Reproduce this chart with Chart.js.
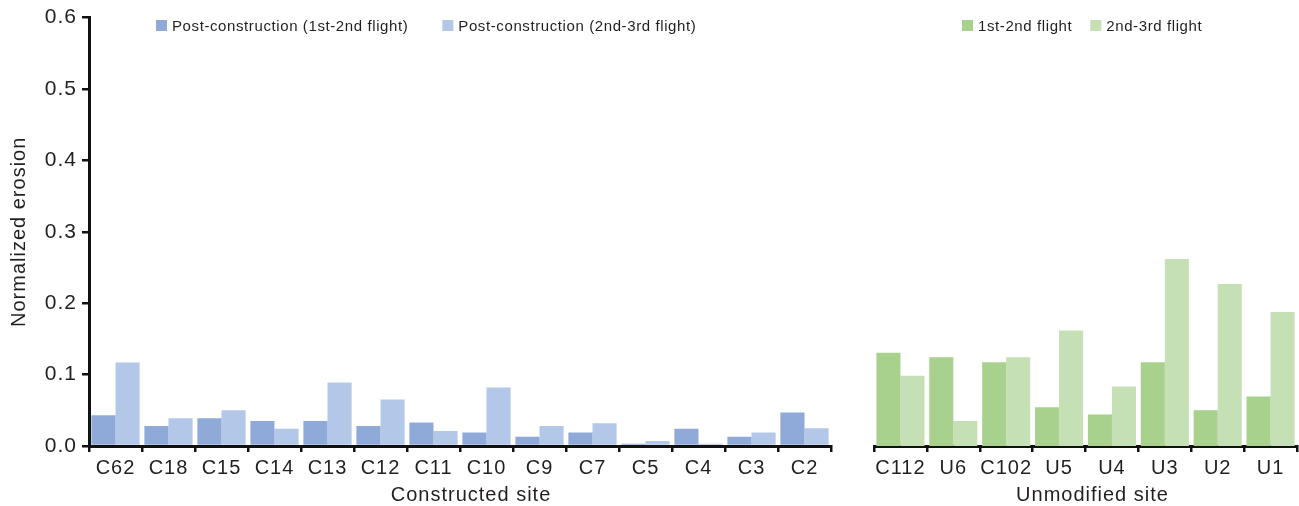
<!DOCTYPE html>
<html>
<head>
<meta charset="utf-8">
<script src="https://cdn.jsdelivr.net/npm/chart.js@4.4.1/dist/chart.umd.min.js"></script>
<style>
  body { margin: 0; background: #fff; }
  #wrap { position: relative; width: 1299px; height: 506px; }
  #leftBox { position: absolute; left: 0; top: 0; width: 850px; height: 506px; }
  #rightBox { position: absolute; left: 852px; top: 0; width: 447px; height: 506px; }
</style>
</head>
<body>
<div id="wrap">
  <div id="leftBox"><canvas id="chartConstructed"></canvas></div>
  <div id="rightBox"><canvas id="chartUnmodified"></canvas></div>
</div>
<script>
// constructed sites
var constructedSites = ['C62','C18','C15','C14','C13','C12','C11','C10','C9','C7','C5','C4','C3','C2'];
var post12 = [0.043,0.028,0.039,0.035,0.035,0.028,0.033,0.019,0.013,0.019,0.003,0.024,0.013,0.047];
var post23 = [0.117,0.039,0.050,0.024,0.089,0.065,0.021,0.082,0.028,0.032,0.007,0.003,0.019,0.025];

// unmodified sites
var unmodifiedSites = ['C112','U6','C102','U5','U4','U3','U2','U1'];
var flight12 = [0.130,0.124,0.117,0.054,0.044,0.117,0.050,0.069];
var flight23 = [0.098,0.035,0.124,0.161,0.083,0.261,0.226,0.187];

var yTicks = [0,0.1,0.2,0.3,0.4,0.5,0.6];

var txt = '#231f20';
var fontFam = "'Liberation Sans', Arial, sans-serif";
Chart.defaults.font.family = fontFam;
Chart.defaults.color = txt;
Chart.defaults.animation = false;

// wider tracking for the axis text (canvas state is reset on resize, so set it every pass)
var spacingPlugin = {
  id: 'spacing',
  beforeUpdate: function(chart){ chart.ctx.letterSpacing = '1px'; },
  beforeDraw: function(chart){ chart.ctx.letterSpacing = '1px'; }
};

// one-row legend inside the plot + the x axis title, a little right of centre
var rowLegend = {
  id: 'rowLegend',
  afterDraw: function(chart, args, opts){
    var ctx = chart.ctx;
    var area = chart.chartArea;
    ctx.save();
    ctx.letterSpacing = '0.6px';
    ctx.font = '15px ' + fontFam;
    ctx.textBaseline = 'middle';
    ctx.textAlign = 'left';
    var x = area.left + opts.start;
    var y = 25;
    chart.data.datasets.forEach(function(ds){
      ctx.fillStyle = ds.backgroundColor;
      ctx.fillRect(x, y - 5, 11, 11);
      ctx.fillStyle = txt;
      ctx.fillText(ds.label, x + 16, y + 2);
      x += 16 + ctx.measureText(ds.label).width + opts.gap;
    });

    ctx.letterSpacing = '1px';
    ctx.font = '20px ' + fontFam;
    ctx.textAlign = 'center';
    ctx.fillText(opts.title, (area.left + area.right) / 2 + opts.titleShift, 495);
    ctx.restore();
  }
};

function xAxis(){
  return {
    offset: true,
    grid: {offset: true, drawOnChartArea: false, drawTicks: true, tickLength: 6, color: '#111', lineWidth: 2.5},
    border: {display: true, color: '#111', width: 3},
    ticks: {font: {size: 20}, padding: 4, autoSkip: false, maxRotation: 0},
    afterFit: function(s){ s.height = 60; }
  };
}

var chartConstructed = new Chart(document.getElementById('chartConstructed'), {
  type: 'bar',
  plugins: [spacingPlugin, rowLegend],
  data: {
    labels: constructedSites,
    datasets: [
      {label: 'Post-construction (1st-2nd flight)', data: post12, backgroundColor: '#8faad8'},
      {label: 'Post-construction (2nd-3rd flight)', data: post23, backgroundColor: '#b3c7e8'}
    ]
  },
  options: {
    responsive: true, maintainAspectRatio: false,
    layout: {padding: {top: 16, right: 19, left: 0, bottom: 0}},
    datasets: {bar: {categoryPercentage: 0.91, barPercentage: 1.0}},
    scales: {
      x: xAxis(),
      y: {
        min: 0, max: 0.6,
        afterBuildTicks: function(s){ s.ticks = yTicks.map(function(v){ return {value: v}; }); },
        grid: {drawOnChartArea: false, drawTicks: true, tickLength: 7, color: '#111', lineWidth: 2.5},
        border: {display: true, color: '#111', width: 3},
        ticks: {font: {size: 21}, padding: 5, callback: function(v){ return v.toFixed(1); }},
        title: {display: true, text: 'Normalized erosion', font: {size: 20}, padding: {top: 7, bottom: 0}},
        afterFit: function(s){ s.width = 89; }
      }
    },
    plugins: {
      legend: {display: false},
      tooltip: {enabled: false},
      rowLegend: {start: 67, gap: 34, title: 'Constructed site', titleShift: 11}
    }
  }
});

var chartUnmodified = new Chart(document.getElementById('chartUnmodified'), {
  type: 'bar',
  plugins: [spacingPlugin, rowLegend],
  data: {
    labels: unmodifiedSites,
    datasets: [
      {label: '1st-2nd flight', data: flight12, backgroundColor: '#a9d18e'},
      {label: '2nd-3rd flight', data: flight23, backgroundColor: '#c5e0b4'}
    ]
  },
  options: {
    responsive: true, maintainAspectRatio: false,
    layout: {padding: {top: 16, right: 2, left: 22, bottom: 0}},
    datasets: {bar: {categoryPercentage: 0.91, barPercentage: 1.0}},
    scales: {
      x: xAxis(),
      y: {min: 0, max: 0.6, display: false}
    },
    plugins: {
      legend: {display: false},
      tooltip: {enabled: false},
      rowLegend: {start: 88, gap: 18, title: 'Unmodified site', titleShift: 7}
    }
  }
});
</script>
</body>
</html>
